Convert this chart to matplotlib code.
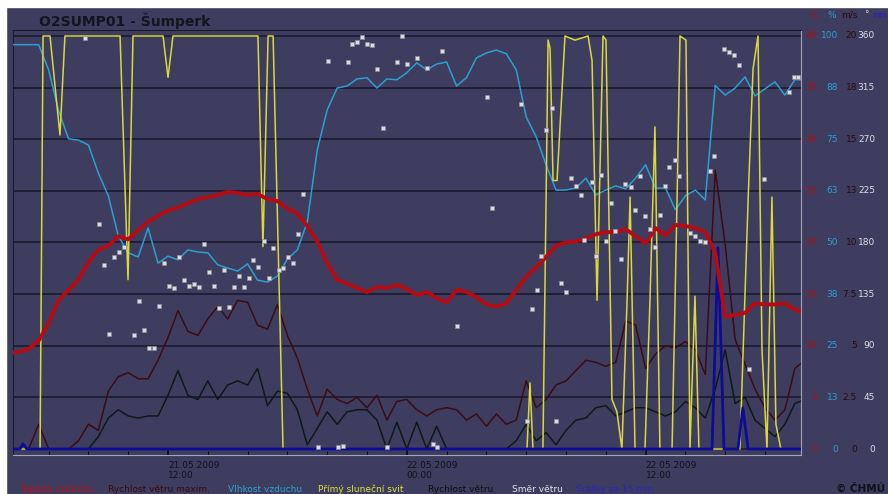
"""
Meteogram O2SUMP01 - Sumperk, 21.-22.05.2009
"""
import numpy as np
import matplotlib
matplotlib.use('Agg')
import matplotlib.pyplot as plt
from matplotlib.ticker import MultipleLocator
from matplotlib.transforms import blended_transform_factory
from matplotlib.patches import Rectangle

# ---- data (hours counted from 21.05.2009 00:00) ----
t_start = 4.0
t_step = 0.5   # half-hour readings

temperature = [9.3, 9.4, 9.7, 10.5, 12.2, 14.4, 15.4, 16.4, 18.1, 19.3,
               19.7, 20.6, 20.3, 21.2, 22.0, 22.6, 23.1, 23.4, 23.8, 24.2,
               24.4, 24.6, 24.9, 24.8, 24.6, 24.7, 24.2, 24.0, 23.3, 22.8,
               21.6, 20.1, 18.0, 16.4, 16.0, 15.6, 15.2, 15.7, 15.6, 15.9,
               15.5, 14.9, 15.2, 14.6, 14.2, 15.4, 15.2, 14.7, 14.0, 13.8,
               14.1, 15.4, 16.7, 17.6, 18.6, 19.7, 20.0, 20.1, 20.4, 20.8,
               21.0, 21.0, 21.3, 20.6, 19.9, 21.4, 20.7, 21.7, 21.6, 21.4,
               21.0, 19.0, 12.8, 13.0, 13.2, 14.1, 14.0, 14.0, 14.1, 13.5,
               13.2]
humidity = [97.9, 97.9, 97.9, 97.9, 91.8, 81.9, 75.1, 74.8, 73.6, 66.8,
            61.3, 51.6, 47.5, 46.5, 53.5, 45.0, 46.7, 45.8, 48.2, 47.7,
            47.5, 44.6, 43.8, 43.1, 44.8, 40.9, 40.4, 41.9, 46.0, 48.2,
            55.0, 72.4, 82.1, 87.4, 87.9, 89.6, 89.9, 87.4, 89.6, 89.4,
            91.1, 93.5, 91.8, 93.2, 93.7, 87.9, 89.9, 94.7, 95.9, 96.6,
            95.7, 91.8, 80.4, 75.6, 68.8, 62.7, 62.7, 63.2, 65.6, 61.5,
            62.7, 63.7, 63.0, 65.6, 68.8, 63.2, 63.2, 57.9, 61.3, 62.7,
            60.3, 88.0, 85.7, 87.4, 90.1, 85.5, 87.2, 88.9, 85.7, 89.4,
            89.4]
wind_gust = [0, 0, 0, 1.2, 0, 0, 0, 0.4, 1.2, 0.9,
             2.8, 3.5, 3.7, 3.4, 3.4, 4.3, 5.4, 6.7, 5.7, 5.5,
             6.3, 6.9, 6.3, 7.2, 7.1, 6.0, 5.8, 7.0, 5.5, 4.4,
             2.9, 1.6, 2.9, 2.4, 2.2, 2.5, 2.0, 2.6, 1.4, 2.3,
             2.4, 1.9, 1.6, 1.9, 2.0, 1.9, 1.4, 1.7, 1.1, 1.7,
             1.2, 1.4, 3.3, 2.0, 2.4, 3.1, 3.3, 3.8, 4.3, 4.2,
             4.0, 4.2, 6.2, 6.0, 3.9, 4.6, 5.0, 4.9, 5.2, 4.8,
             3.6, 13.5, 9.9, 5.3, 4.1, 2.9, 2.0, 1.4, 1.9, 3.9,
             4.3]
wind_speed = [0, 0, 0, 0, 0, 0, 0, 0, 0, 0.6,
              1.5, 1.9, 1.6, 1.5, 1.6, 1.6, 2.6, 3.8, 2.6, 2.4,
              3.3, 2.4, 3.1, 3.3, 3.1, 3.9, 2.1, 2.8, 2.7, 1.9,
              0.2, 1.0, 1.8, 1.2, 1.8, 1.9, 1.9, 1.4, 0.0, 1.3,
              0.0, 1.3, 0.0, 1.1, 0.0, 0.0, 0.0, 0.0, 0.0, 0.0,
              0.0, 0.4, 1.2, 0.4, 0.8, 0.2, 0.9, 1.4, 1.5, 2.0,
              2.1, 1.6, 1.8, 2.0, 2.0, 1.8, 1.6, 1.8, 2.3, 2.0,
              1.5, 2.9, 4.8, 2.2, 2.5, 1.4, 1.0, 0.6, 1.2, 2.2,
              2.4]

# direct sunshine (% of interval)
sun_hours = [4.0, 5.57, 5.72, 6.07, 6.57, 6.82, 9.59, 9.99, 10.24, 11.75,
             12.0, 12.25, 16.52, 16.77, 17.03, 17.28, 17.78, 30.04, 30.19, 30.34,
             30.84, 31.10, 31.20, 31.35, 31.55, 31.95, 32.45, 33.11, 33.31, 33.56,
             33.86, 34.01, 34.31, 34.56, 34.81, 35.07, 35.22, 35.47, 35.97, 36.22,
             36.47, 36.72, 37.33, 37.58, 37.73, 38.03, 38.23, 38.48, 38.68, 40.74,
             41.15, 41.40, 41.65, 41.85, 42.10, 42.35, 42.55, 42.80, 44.0]
sun_pct = [0, 0, 100, 100, 76, 100, 100, 41, 100, 100,
           90, 100, 100, 49, 100, 100, 0, 0, 16, 0,
           0, 99, 97, 65, 65, 100, 99, 100, 94, 36,
           100, 99, 12, 9, 0, 36, 61, 0, 0, 36,
           78, 0, 0, 60, 100, 99, 0, 37, 0, 0,
           60, 92, 100, 24, 0, 61, 6, 0, 0]

# precipitation per 15 min (mm)
rain_hours = [4.0, 4.56, 4.71, 4.91, 39.34, 39.64, 39.94, 40.64, 40.89, 41.15, 44.0]
rain_mm = [0, 0, 0.1, 0, 0, 3.9, 0, 0, 0.8, 0, 0]

# wind direction (deg)
dir_hours = [7.83, 8.53, 8.78, 9.04, 9.29, 9.54, 9.79, 10.29, 10.54, 10.79,
             11.05, 11.30, 11.55, 11.80, 12.05, 12.30, 12.55, 12.80, 13.06, 13.31,
             13.56, 13.81, 14.06, 14.31, 14.56, 14.81, 15.07, 15.32, 15.57, 15.82,
             16.07, 16.27, 16.52, 16.82, 17.08, 17.28, 17.58, 17.78, 18.03, 18.28,
             18.53, 18.78, 19.54, 20.04, 20.54, 20.79, 21.05, 21.25, 21.50, 21.75,
             22.00, 22.25, 22.50, 22.80, 23.01, 23.51, 23.76, 24.01, 24.51, 25.02,
             25.32, 25.52, 25.77, 26.52, 28.03, 28.28, 29.74, 30.04, 30.29, 30.54,
             30.74, 30.99, 31.30, 31.50, 31.75, 32.00, 32.25, 32.50, 32.75, 32.90,
             33.31, 33.51, 33.76, 34.01, 34.26, 34.46, 34.76, 34.96, 35.27, 35.47,
             35.72, 35.97, 36.22, 36.47, 36.72, 36.97, 37.18, 37.48, 37.68, 38.23,
             38.48, 38.73, 38.98, 39.23, 39.43, 39.94, 40.19, 40.44, 40.69, 41.19,
             41.95, 43.21, 43.46, 43.66]
dir_deg = [358, 196, 160, 100, 167, 172, 176, 99, 129, 104,
           88, 88, 125, 162, 142, 140, 167, 147, 142, 144,
           141, 179, 154, 142, 123, 156, 124, 141, 151, 141,
           149, 165, 159, 181, 149, 175, 156, 158, 167, 162,
           187, 222, 2, 338, 2, 3, 337, 353, 355, 359,
           353, 352, 331, 280, 2, 337, 360, 336, 341, 332,
           4, 2, 347, 107, 307, 210, 301, 24, 122, 139,
           168, 278, 297, 24, 145, 137, 236, 229, 221, 182,
           233, 168, 239, 181, 214, 190, 166, 231, 228, 208,
           238, 203, 192, 176, 204, 229, 246, 252, 238, 188,
           186, 181, 180, 242, 255, 349, 346, 343, 335, 70,
           235, 311, 324, 324]

# right hand scale labels (bottom -> top)
temp_labels = ['0', '5', '10', '15', '20', '25', '30', '35', '40']
hum_labels = ['0', '13', '25', '38', '50', '63', '75', '88', '100']
wind_labels = ['0', '2.5', '5', '7.5', '10', '13', '15', '18', '20']
dir_labels = ['0', '45', '90', '135', '180', '225', '270', '315', '360']

tick_hours = [12, 24, 36]
tick_labels = ['21.05.2009\n12:00', '22.05.2009\n00:00', '22.05.2009\n12:00']

# every quantity is drawn on a common 0..8 grid
TEMP_UNIT, HUM_UNIT, WIND_UNIT, DIR_UNIT, SUN_UNIT, RAIN_UNIT = 5.0, 12.5, 2.5, 45.0, 12.5, 1.0

BG = '#3e3d5f'
GRID = '#17172a'
C_TEMP = '#b40c14'
C_HUM = '#2e9ed2'
C_SUN = '#d9d93c'
C_GUST = '#3a0c14'
C_WIND = '#0c1a16'
C_RAIN = '#0c0c96'
C_DIR = '#dcdce4'

hours = t_start + t_step * np.arange(len(temperature))

fig = plt.figure(figsize=(8.88, 4.94), dpi=100, facecolor=BG)
fig.add_artist(Rectangle((0, 1 - 7 / 494), 1, 7 / 494, transform=fig.transFigure,
                         color='white', zorder=-1))
fig.add_artist(Rectangle((0, 0), 6 / 888, 1, transform=fig.transFigure,
                         color='white', zorder=-1))

ax = fig.add_axes([13 / 888, 1 - 455 / 494, 788 / 888, 425 / 494])
ax.set_facecolor(BG)
ax.set_xlim(4.21, 43.81)
ax.set_ylim(-0.116, 8.116)

# horizontal grid
ax.set_yticks(range(9))
ax.yaxis.grid(True, color=GRID, lw=1.1)
ax.set_axisbelow(True)
ax.tick_params(axis='y', left=False, labelleft=False)

# series
ax.plot(hours, np.array(wind_gust) / WIND_UNIT, color=C_GUST, lw=1.1, zorder=3)
ax.plot(hours, np.array(wind_speed) / WIND_UNIT, color=C_WIND, lw=1.1, zorder=3)
ax.plot(hours, np.array(humidity) / HUM_UNIT, color=C_HUM, lw=1.1, zorder=4)
ax.plot(sun_hours, np.array(sun_pct) / SUN_UNIT, color=C_SUN, lw=1.1, zorder=5)
ax.plot(rain_hours, np.array(rain_mm) / RAIN_UNIT, color=C_RAIN, lw=2.0, zorder=6)
ax.plot(hours, np.array(temperature) / TEMP_UNIT, color=C_TEMP, lw=2.8, zorder=7,
        solid_joinstyle='round')
ax.plot(dir_hours, np.array(dir_deg) / DIR_UNIT, ls='none', marker='s', ms=2.8,
        mfc=C_DIR, mec='#8c8c96', mew=0.5, zorder=8)

# x axis
ax.set_xticks(tick_hours)
ax.set_xticklabels(tick_labels)
for lab in ax.get_xticklabels():
    lab.set_horizontalalignment('left')
ax.xaxis.set_minor_locator(MultipleLocator(2))
ax.tick_params(axis='x', which='major', direction='in', length=5, width=1.3,
               color='#101018', labelsize=6.5, labelcolor='#101018', pad=4)
ax.tick_params(axis='x', which='minor', direction='in', length=3, width=0.8,
               color='#101018')

# sunken frame
for side in ['left', 'top']:
    ax.spines[side].set_color('#1a1a28')
for side in ['right', 'bottom']:
    ax.spines[side].set_color('#a4a4b8')

# right hand scales
trans = blended_transform_factory(fig.transFigure, ax.transData)
cols = [(817, temp_labels, C_TEMP), (838, hum_labels, C_HUM),
        (857, wind_labels, '#2a0a10'), (875, dir_labels, C_DIR)]
for xpix, labels, col in cols:
    for i, txt in enumerate(labels):
        fig.text(xpix / 888, i, txt, transform=trans, ha='right', va='center',
                 fontsize=6.5, color=col)

head_y = 1 - 15 / 494
fig.text(813 / 888, head_y, '°C', ha='center', va='center', fontsize=6.5, color=C_TEMP)
fig.text(832 / 888, head_y, '%', ha='center', va='center', fontsize=6.5, color=C_HUM)
fig.text(849 / 888, head_y, 'm/s', ha='center', va='center', fontsize=6.5, color='#2a0a10')
fig.text(866 / 888, head_y, '°', ha='center', va='center', fontsize=6.5, color=C_DIR)
fig.text(887 / 888, head_y, 'mm', ha='right', va='center', fontsize=5.5, color='#2020c8')

# title
fig.text(39 / 888, 1 - 21 / 494, 'O2SUMP01 - Šumperk', fontsize=10, weight='bold',
         color='#141420', va='center')

# legend line at the bottom
leg_y = 1 - 489 / 494
legend = [(20, 'Teplota vzduchu', '#c01010'),
          (108, 'Rychlost větru maxim.', '#3a0a10'),
          (228, 'Vlhkost vzduchu', '#30a2d4'),
          (318, 'Přímý sluneční svit', '#e2e23c'),
          (428, 'Rychlost větru', '#0e0e0e'),
          (512, 'Směr větru', '#e4e4ea'),
          (576, 'Srážky za 15 min', '#2626c8')]
for xpix, txt, col in legend:
    fig.text(xpix / 888, leg_y, txt, fontsize=6.5, color=col, va='center')
fig.text(885 / 888, leg_y, '© ČHMÚ', fontsize=7.5, weight='bold', color='#101018',
         ha='right', va='center')

plt.savefig('out.png', dpi=100, facecolor=fig.get_facecolor())
print("Saved out.png")
